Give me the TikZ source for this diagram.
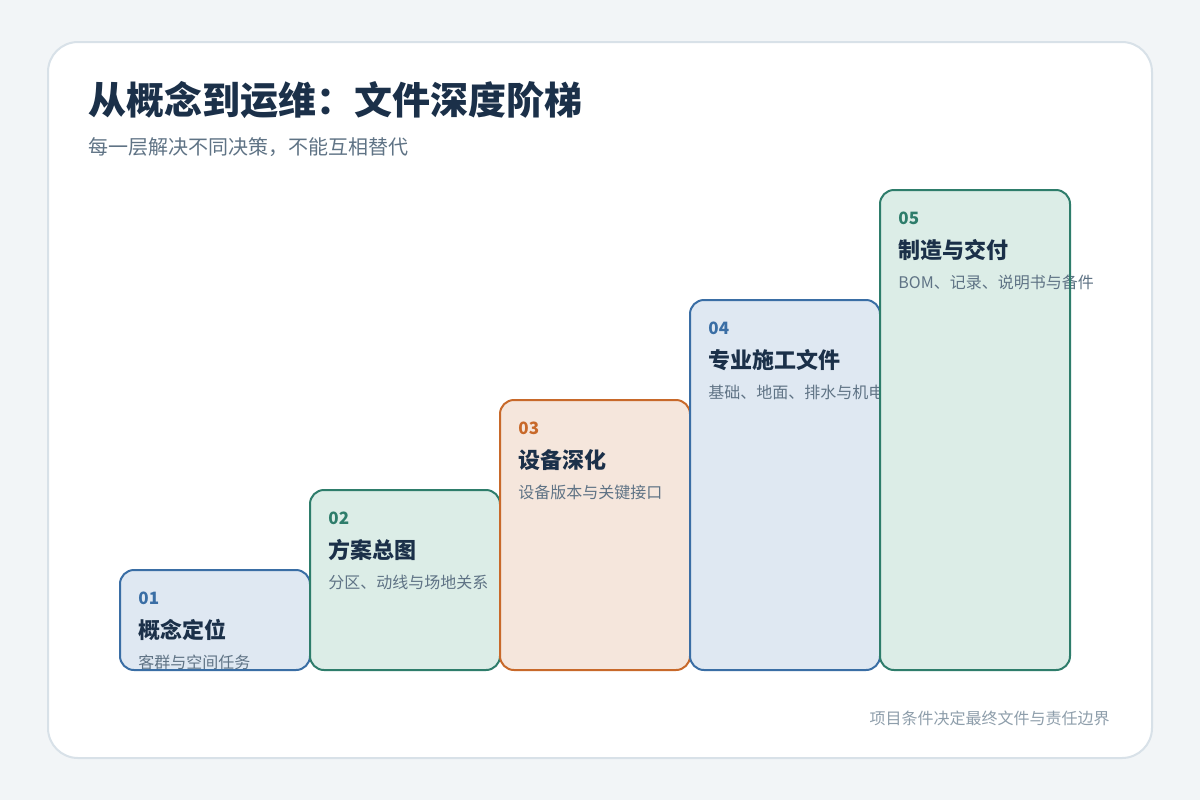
\documentclass[tikz,border=0pt]{standalone}
\usepackage{fontspec}
\setmainfont{Noto Sans CJK SC}
\usetikzlibrary{positioning}
\definecolor{pageColor}{HTML}{F2F5F7}
\definecolor{cardLine}{HTML}{D8E1E8}
\definecolor{titleColor}{HTML}{1B3049}
\definecolor{mutedColor}{HTML}{5F7385}
\definecolor{footColor}{HTML}{8E9EAB}
\definecolor{blueLine}{HTML}{3A6EA5}
\definecolor{blueFill}{HTML}{DFE8F2}
\definecolor{greenLine}{HTML}{2E7D6B}
\definecolor{greenFill}{HTML}{DCEDE7}
\definecolor{orangeLine}{HTML}{C8692A}
\definecolor{orangeFill}{HTML}{F5E6DC}
\tikzstyle{pixel} = [x = 0.5pt, y = -0.5pt]
\tikzstyle{stepStyle} = [rounded corners = 7pt, line width = 1pt]
\tikzstyle{plainText} = [anchor = west, inner sep = 0pt]
\tikzstyle{numberText} = [plainText, font = \bfseries\fontsize{8.5}{10}\selectfont]
\tikzstyle{stepTitle} = [plainText, text = titleColor, font = \bfseries\fontsize{11}{13}\selectfont]
\tikzstyle{stepText} = [plainText, text = mutedColor, font = \fontsize{8}{10}\selectfont]
\newcommand{\bottomLine}{670}
\newcommand{\stepBox}[8]{
  \fill [stepStyle, fill = #5] (#2, #3) rectangle (#2 + 190, \bottomLine);
  \node [numberText, text = #4] (#1Number) at (#2 + 18, #3 + 28) {#6};
  \node [stepTitle] (#1Title) at (#2 + 18, #3 + 60) {#7};
  \node [stepText] (#1Text) at (#2 + 18, #3 + 92) {#8};
  \draw [stepStyle, draw = #4] (#2, #3) rectangle (#2 + 190, \bottomLine);
}

\begin{document}
\begin{tikzpicture}[pixel]
  \fill [pageColor] (0, 0) rectangle (1200, 800);
  \useasboundingbox (0, 0) rectangle (1200, 800);
  \filldraw [fill = white, draw = cardLine, line width = 1pt, rounded corners = 15pt] (48, 42) rectangle (1152, 758);

  \node [plainText, text = titleColor, font = \bfseries\fontsize{19}{23}\selectfont] (title) at (88, 100) {从概念到运维：文件深度阶梯};
  \node [plainText, text = mutedColor, font = \fontsize{10}{12}\selectfont] (subtitle) at (88, 147) {每一层解决不同决策，不能互相替代};

  % steps, later ones drawn on top
  \begin{scope}
    \clip (0, 0) rectangle (1200, 671);
    \stepBox{one}{120}{570}{blueLine}{blueFill}{01}{概念定位}{客群与空间任务}
    \stepBox{two}{310}{490}{greenLine}{greenFill}{02}{方案总图}{分区、动线与场地关系}
    \stepBox{three}{500}{400}{orangeLine}{orangeFill}{03}{设备深化}{设备版本与关键接口}
    \stepBox{four}{690}{300}{blueLine}{blueFill}{04}{专业施工文件}{基础、地面、排水与机电}
    \stepBox{five}{880}{190}{greenLine}{greenFill}{05}{制造与交付}{BOM、记录、说明书与备件}
  \end{scope}

  \node [anchor = east, inner sep = 0pt, text = footColor, font = \fontsize{8}{10}\selectfont] (footer) at (1110, 718) {项目条件决定最终文件与责任边界};
\end{tikzpicture}
\end{document}
